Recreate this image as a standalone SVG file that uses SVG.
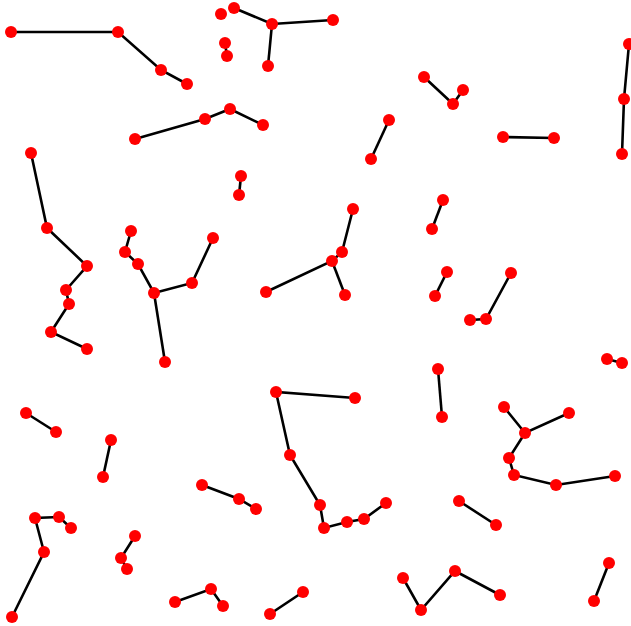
<svg xmlns="http://www.w3.org/2000/svg" width="631" height="626" viewBox="0 0 631 626">
<style>
.e{stroke:#000;stroke-width:2.6;fill:none}
.n{fill:#ff0000}
</style>
<rect width="631" height="626" fill="#fff"/>
<g id="connectors" class="e">
<polyline points="11,32 118,32 161,70 187,84"/>
<polyline points="234,8 272,24 333,20"/>
<line x1="272" y1="24" x2="268" y2="66"/>
<line x1="225" y1="43" x2="227" y2="56"/>
<polyline points="135,139 205,119 230,109 263,125"/>
<polyline points="31,153 47,228 87,266 66,290 69,304 51,332 87,349"/>
<line x1="241" y1="176" x2="239" y2="195"/>
<polyline points="131,231 125,252 138,264 154,293 192,283 213,238"/>
<line x1="154" y1="293" x2="165" y2="362"/>
<polyline points="266,292 332,261 342,252 353,209"/>
<line x1="332" y1="261" x2="345" y2="295"/>
<polyline points="629,44 624,99 622,154"/>
<polyline points="424,77 453,104 463,90"/>
<line x1="389" y1="120" x2="371" y2="159"/>
<line x1="503" y1="137" x2="554" y2="138"/>
<line x1="443" y1="200" x2="432" y2="229"/>
<line x1="447" y1="272" x2="435" y2="296"/>
<polyline points="511,273 486,319 470,320"/>
<line x1="607" y1="359" x2="622" y2="363"/>
<line x1="438" y1="369" x2="442" y2="417"/>
<polyline points="355,398 276,392 290,455 320,505 324,528 347,522 364,519 386,503"/>
<polyline points="504,407 525,433 569,413"/>
<polyline points="525,433 509,458 514,475 556,485 615,476"/>
<line x1="459" y1="501" x2="496" y2="525"/>
<polyline points="403,578 421,610 455,571 500,595"/>
<line x1="609" y1="563" x2="594" y2="601"/>
<line x1="26" y1="413" x2="56" y2="432"/>
<line x1="111" y1="440" x2="103" y2="477"/>
<polyline points="202,485 239,499 256,509"/>
<polyline points="71,528 59,517 35,518 44,552 12,617"/>
<polyline points="135,536 121,558 127,569"/>
<polyline points="175,602 211,589 223,606"/>
<line x1="270" y1="614" x2="303" y2="592"/>
</g>
<g id="nodes" class="n">
<g id="n1"><circle cx="11" cy="32" r="6"/></g>
<g id="n2"><circle cx="118" cy="32" r="6"/></g>
<g id="n3"><circle cx="161" cy="70" r="6"/></g>
<g id="n4"><circle cx="187" cy="84" r="6"/></g>
<g id="n5"><circle cx="221" cy="14" r="6"/></g>
<g id="n6"><circle cx="234" cy="8" r="6"/></g>
<g id="n7"><circle cx="272" cy="24" r="6"/></g>
<g id="n8"><circle cx="333" cy="20" r="6"/></g>
<g id="n9"><circle cx="268" cy="66" r="6"/></g>
<g id="n10"><circle cx="225" cy="43" r="6"/></g>
<g id="n11"><circle cx="227" cy="56" r="6"/></g>
<g id="n12"><circle cx="135" cy="139" r="6"/></g>
<g id="n13"><circle cx="205" cy="119" r="6"/></g>
<g id="n14"><circle cx="230" cy="109" r="6"/></g>
<g id="n15"><circle cx="263" cy="125" r="6"/></g>
<g id="n16"><circle cx="31" cy="153" r="6"/></g>
<g id="n17"><circle cx="47" cy="228" r="6"/></g>
<g id="n18"><circle cx="87" cy="266" r="6"/></g>
<g id="n19"><circle cx="66" cy="290" r="6"/></g>
<g id="n20"><circle cx="69" cy="304" r="6"/></g>
<g id="n21"><circle cx="51" cy="332" r="6"/></g>
<g id="n22"><circle cx="87" cy="349" r="6"/></g>
<g id="n23"><circle cx="241" cy="176" r="6"/></g>
<g id="n24"><circle cx="239" cy="195" r="6"/></g>
<g id="n25"><circle cx="131" cy="231" r="6"/></g>
<g id="n26"><circle cx="125" cy="252" r="6"/></g>
<g id="n27"><circle cx="138" cy="264" r="6"/></g>
<g id="n28"><circle cx="154" cy="293" r="6"/></g>
<g id="n29"><circle cx="192" cy="283" r="6"/></g>
<g id="n30"><circle cx="213" cy="238" r="6"/></g>
<g id="n31"><circle cx="165" cy="362" r="6"/></g>
<g id="n32"><circle cx="266" cy="292" r="6"/></g>
<g id="n33"><circle cx="332" cy="261" r="6"/></g>
<g id="n34"><circle cx="342" cy="252" r="6"/></g>
<g id="n35"><circle cx="353" cy="209" r="6"/></g>
<g id="n36"><circle cx="345" cy="295" r="6"/></g>
<g id="n37"><circle cx="629" cy="44" r="6"/></g>
<g id="n38"><circle cx="624" cy="99" r="6"/></g>
<g id="n39"><circle cx="622" cy="154" r="6"/></g>
<g id="n40"><circle cx="424" cy="77" r="6"/></g>
<g id="n41"><circle cx="453" cy="104" r="6"/></g>
<g id="n42"><circle cx="463" cy="90" r="6"/></g>
<g id="n43"><circle cx="389" cy="120" r="6"/></g>
<g id="n44"><circle cx="371" cy="159" r="6"/></g>
<g id="n45"><circle cx="503" cy="137" r="6"/></g>
<g id="n46"><circle cx="554" cy="138" r="6"/></g>
<g id="n47"><circle cx="443" cy="200" r="6"/></g>
<g id="n48"><circle cx="432" cy="229" r="6"/></g>
<g id="n49"><circle cx="447" cy="272" r="6"/></g>
<g id="n50"><circle cx="435" cy="296" r="6"/></g>
<g id="n51"><circle cx="511" cy="273" r="6"/></g>
<g id="n52"><circle cx="486" cy="319" r="6"/></g>
<g id="n53"><circle cx="470" cy="320" r="6"/></g>
<g id="n54"><circle cx="607" cy="359" r="6"/></g>
<g id="n55"><circle cx="622" cy="363" r="6"/></g>
<g id="n56"><circle cx="438" cy="369" r="6"/></g>
<g id="n57"><circle cx="442" cy="417" r="6"/></g>
<g id="n58"><circle cx="355" cy="398" r="6"/></g>
<g id="n59"><circle cx="276" cy="392" r="6"/></g>
<g id="n60"><circle cx="290" cy="455" r="6"/></g>
<g id="n61"><circle cx="320" cy="505" r="6"/></g>
<g id="n62"><circle cx="324" cy="528" r="6"/></g>
<g id="n63"><circle cx="347" cy="522" r="6"/></g>
<g id="n64"><circle cx="364" cy="519" r="6"/></g>
<g id="n65"><circle cx="386" cy="503" r="6"/></g>
<g id="n66"><circle cx="504" cy="407" r="6"/></g>
<g id="n67"><circle cx="525" cy="433" r="6"/></g>
<g id="n68"><circle cx="569" cy="413" r="6"/></g>
<g id="n69"><circle cx="509" cy="458" r="6"/></g>
<g id="n70"><circle cx="514" cy="475" r="6"/></g>
<g id="n71"><circle cx="556" cy="485" r="6"/></g>
<g id="n72"><circle cx="615" cy="476" r="6"/></g>
<g id="n73"><circle cx="459" cy="501" r="6"/></g>
<g id="n74"><circle cx="496" cy="525" r="6"/></g>
<g id="n75"><circle cx="403" cy="578" r="6"/></g>
<g id="n76"><circle cx="421" cy="610" r="6"/></g>
<g id="n77"><circle cx="455" cy="571" r="6"/></g>
<g id="n78"><circle cx="500" cy="595" r="6"/></g>
<g id="n79"><circle cx="609" cy="563" r="6"/></g>
<g id="n80"><circle cx="594" cy="601" r="6"/></g>
<g id="n81"><circle cx="26" cy="413" r="6"/></g>
<g id="n82"><circle cx="56" cy="432" r="6"/></g>
<g id="n83"><circle cx="111" cy="440" r="6"/></g>
<g id="n84"><circle cx="103" cy="477" r="6"/></g>
<g id="n85"><circle cx="202" cy="485" r="6"/></g>
<g id="n86"><circle cx="239" cy="499" r="6"/></g>
<g id="n87"><circle cx="256" cy="509" r="6"/></g>
<g id="n88"><circle cx="35" cy="518" r="6"/></g>
<g id="n89"><circle cx="59" cy="517" r="6"/></g>
<g id="n90"><circle cx="71" cy="528" r="6"/></g>
<g id="n91"><circle cx="44" cy="552" r="6"/></g>
<g id="n92"><circle cx="12" cy="617" r="6"/></g>
<g id="n93"><circle cx="135" cy="536" r="6"/></g>
<g id="n94"><circle cx="121" cy="558" r="6"/></g>
<g id="n95"><circle cx="127" cy="569" r="6"/></g>
<g id="n96"><circle cx="175" cy="602" r="6"/></g>
<g id="n97"><circle cx="211" cy="589" r="6"/></g>
<g id="n98"><circle cx="223" cy="606" r="6"/></g>
<g id="n99"><circle cx="270" cy="614" r="6"/></g>
<g id="n100"><circle cx="303" cy="592" r="6"/></g>
</g>
</svg>
